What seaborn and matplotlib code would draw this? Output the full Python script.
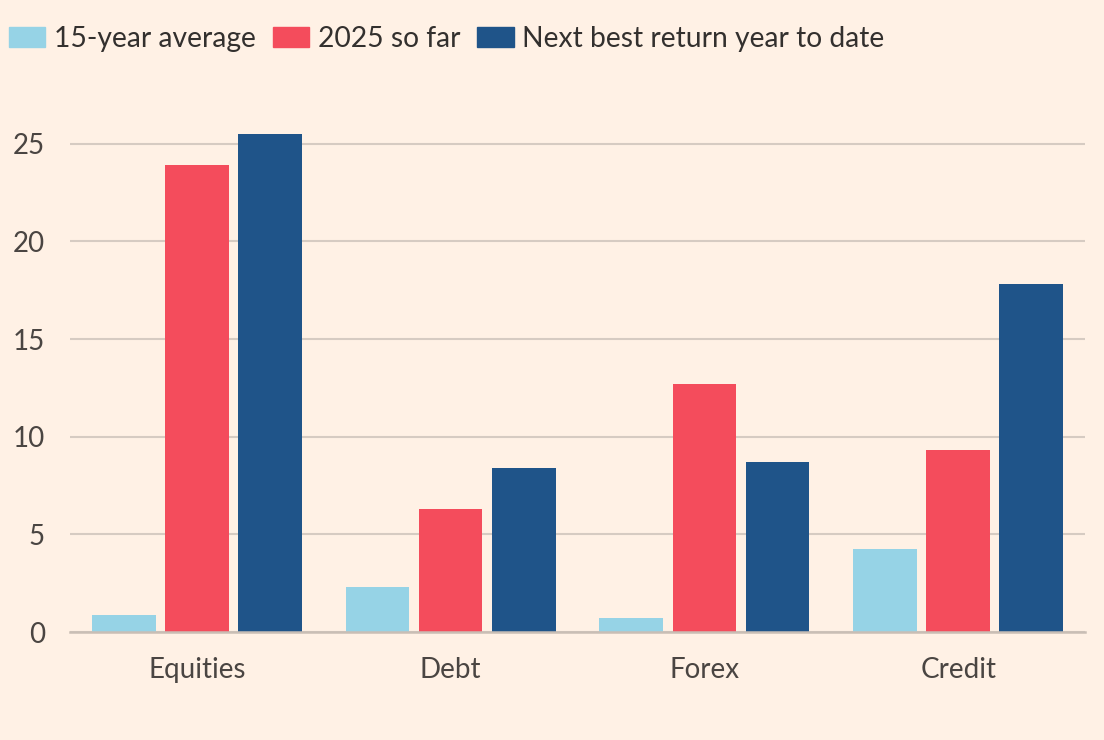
import pandas as pd
import numpy as np
import matplotlib
matplotlib.use("Agg")
import matplotlib.pyplot as plt
import seaborn as sns

# Data
categories = ["Equities", "Debt", "Forex", "Credit"]
series = ["15-year average", "2025 so far", "Next best return year to date"]
avg_15y = [0.87, 2.3, 0.72, 4.25]
so_far_2025 = [23.9, 6.3, 12.7, 9.3]
next_best = [25.5, 8.4, 8.7, 17.8]
yticks = [0, 5, 10, 15, 20, 25]

colors = ["#96D3E6", "#F44C5C", "#1F5489"]
bg = "#FFF1E5"
text_col = "#4A4542"

df = pd.DataFrame({
    "category": categories * 3,
    "series": np.repeat(series, len(categories)),
    "value": avg_15y + so_far_2025 + next_best,
})

sns.set_style("white")
plt.rcParams["font.family"] = ["Lato", "DejaVu Sans"]

fig = plt.figure(figsize=(11.04, 7.4), dpi=100, facecolor=bg)
ax = fig.add_axes([0.0634, 0.1459, 0.9194, 0.7257])
ax.set_facecolor(bg)

sns.barplot(data=df, x="category", y="value", hue="series", order=categories,
            hue_order=series, palette=colors, width=0.865, gap=0.13,
            saturation=1, linewidth=0, ax=ax, legend=False)

ax.set_xlim(-0.5, 3.5)
ax.set_ylim(0, 27.5)
ax.set_yticks(yticks)
ax.set_yticklabels([str(t) for t in yticks])
ax.yaxis.grid(True, color="#D6CBC2", linewidth=1.5)
ax.set_axisbelow(True)
for s in ["top", "right", "left"]:
    ax.spines[s].set_visible(False)
ax.spines["bottom"].set_color("#C9BEB5")
ax.spines["bottom"].set_linewidth(1.8)

ax.tick_params(axis="y", length=0, pad=18, labelsize=20, labelcolor=text_col)
ax.tick_params(axis="x", length=11, width=1.5, color="#A39A92", pad=7,
               labelsize=20, labelcolor=text_col)
ax.set_xlabel("")
ax.set_ylabel("")

handles = [plt.Rectangle((0, 0), 1, 1, color=c) for c in colors]
fig.legend(handles, series, loc="upper left", bbox_to_anchor=(0.008, 0.965),
           ncol=3, frameon=False, fontsize=20.3, handlelength=1.3,
           handleheight=0.75, handletextpad=0.3, columnspacing=0.6,
           borderpad=0, borderaxespad=0, labelcolor="#33302E")

fig.savefig("out.png", dpi=100, facecolor=bg)
